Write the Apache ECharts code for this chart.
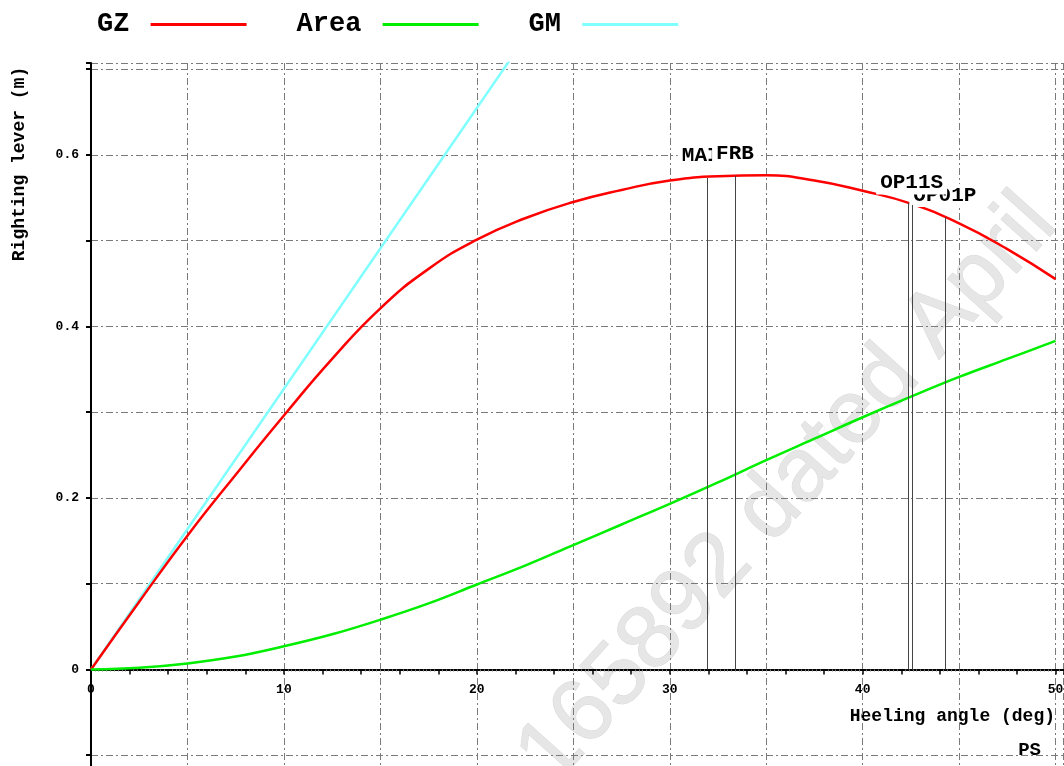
<!DOCTYPE html>
<html>
<head>
<meta charset="utf-8">
<script src="https://cdn.jsdelivr.net/npm/echarts@6.0.0/dist/echarts.min.js"></script>
<style>
html,body{margin:0;padding:0;background:#fff;}
#chart{width:1064px;height:766px;}
</style>
</head>
<body>
<div id="chart"></div>
<script>
// Heeling angle (deg) for GZ curve
const gzAngles = [0, 2.5, 5, 7.5, 10, 12.5, 15, 17.5, 20, 22.5, 25, 27.5, 30, 32.5, 35, 37.5, 40, 42.5, 45, 47.5, 50];
// Righting lever GZ (m)
const gzValues = [0, 0.079, 0.156, 0.227, 0.296, 0.362, 0.421, 0.467, 0.501, 0.526, 0.545, 0.559, 0.570, 0.575, 0.576, 0.570, 0.558, 0.543, 0.520, 0.490, 0.455];

// Area under GZ curve (m.rad)
const areaAngles = [0, 2.5, 5, 7.5, 10, 12.5, 15, 17.5, 20, 22.5, 25, 27.5, 30, 32.5, 35, 37.5, 40, 42.5, 45, 47.5, 50];
const areaValues = [0, 0.002, 0.007, 0.015, 0.027, 0.041, 0.058, 0.077, 0.099, 0.121, 0.145, 0.169, 0.193, 0.218, 0.244, 0.269, 0.294, 0.318, 0.341, 0.362, 0.383];

// GM line: from origin to GM at 1 rad (57.3 deg)
const gmAngles = [0, 57.3];
const gmValues = [0, 1.875];

// Opening / criteria markers
const markerNames  = ['MAIN', 'FRB', 'OP01P', '', 'OP11S'];
const markerAngles = [31.93, 33.38, 44.26, 42.33, 42.54];
const markerGZ     = [0.573, 0.5755, 0.527, 0.544, 0.5415];

const legendNames = ['GZ', 'Area', 'GM'];
const yTickLabels = ['0', '0.2', '0.4', '0.6'];

const MONO = '"Liberation Mono", "DejaVu Sans Mono", monospace';
const gridStyle = { color: '#7a7a7a', width: 1, type: [7, 3, 2, 3] };

const zip = (xs, ys) => xs.map((x, i) => [x, ys[i]]);

// grid geometry: y from -0.2 to 0.707 (bottom part runs off the page)
const G_TOP = 63, G_BOTTOM = -75, Y_MIN = -0.2, Y_MAX = 0.707;
const plotH = 766 - G_TOP - G_BOTTOM;
const zeroOffset = -(plotH * (0 - Y_MIN) / (Y_MAX - Y_MIN));

const chart = echarts.init(document.getElementById('chart'), null, { renderer: 'canvas' });

chart.setOption({
  animation: false,
  backgroundColor: '#fff',
  legend: {
    data: legendNames,
    left: 92,
    top: 6,
    align: 'right',
    icon: 'rect',
    itemWidth: 96,
    itemHeight: 3,
    itemGap: 50,
    formatter: n => n + ' ',
    textStyle: { fontFamily: MONO, fontWeight: 'bold', fontSize: 27, color: '#000' }
  },
  grid: { left: 91, right: 0.7, top: G_TOP, bottom: G_BOTTOM, containLabel: false, outerBoundsMode: 'none' },
  xAxis: [
    {
      type: 'value', min: 0, max: 50.4, interval: 2, position: 'bottom', offset: zeroOffset,
      axisLine: { show: true, onZero: false, lineStyle: { color: '#000', width: 2 } },
      axisTick: { show: true, length: 5, lineStyle: { color: '#000', width: 1.5 } },
      minorTick: { show: true, splitNumber: 10, length: 2, lineStyle: { color: '#777' } },
      axisLabel: {
        margin: 14, fontFamily: MONO, fontSize: 13, fontWeight: 'bold', color: '#000',
        formatter: v => (Math.abs(v % 10) < 1e-6 && v <= 50.01) ? String(Math.round(v)) : ''
      },
      splitLine: { show: false }
    },
    {
      type: 'value', min: 0, max: 50.4, interval: 5, position: 'top',
      axisLine: { show: false }, axisTick: { show: false }, axisLabel: { show: false },
      splitLine: { show: true, lineStyle: gridStyle }
    }
  ],
  yAxis: {
    type: 'value', min: Y_MIN, max: Y_MAX, interval: 0.1,
    axisLine: { show: true, onZero: false, lineStyle: { color: '#000', width: 2 } },
    axisTick: { show: true, length: 5, lineStyle: { color: '#000', width: 2 } },
    axisLabel: {
      margin: 12, fontFamily: MONO, fontSize: 13, fontWeight: 'bold', color: '#000',
      formatter: v => {
        const r = Math.round(v * 10);
        if (Math.abs(v * 10 - r) > 1e-6 || r < 0 || r % 2) return '';
        return yTickLabels[r / 2] || '';
      }
    },
    splitLine: { show: true, lineStyle: gridStyle }
  },
  graphic: [
    {
      type: 'text', x: 788, y: 490, rotation: 48 * Math.PI / 180, z: -10, silent: true,
      style: { text: '165892 dated April', font: '90px "Liberation Sans", Arial, sans-serif',
               fill: '#e6e6e6', stroke: '#d8d8d8', lineWidth: 1, align: 'center', verticalAlign: 'middle' }
    },
    {
      type: 'text', x: 19, y: 164, rotation: Math.PI / 2,
      style: { text: 'Righting lever (m)', font: 'bold 18px ' + MONO, fill: '#000', align: 'center', verticalAlign: 'middle' }
    },
    {
      type: 'text', x: 1055, y: 716,
      style: { text: 'Heeling angle (deg)', font: 'bold 18px ' + MONO, fill: '#000', align: 'right', verticalAlign: 'middle' }
    },
    {
      type: 'text', x: 1041, y: 750,
      style: { text: 'PS', font: 'bold 19px ' + MONO, fill: '#000', align: 'right', verticalAlign: 'middle' }
    }
  ],
  series: [
    {
      name: 'GZ', type: 'line', data: zip(gzAngles, gzValues), smooth: 0.5,
      showSymbol: false, color: '#ff0000', lineStyle: { color: '#ff0000', width: 2.5 }, z: 3
    },
    {
      name: 'Area', type: 'line', data: zip(areaAngles, areaValues), smooth: 0.4,
      showSymbol: false, color: '#00ee00', lineStyle: { color: '#00ee00', width: 2.5 }, z: 3
    },
    {
      name: 'GM', type: 'line', data: zip(gmAngles, gmValues),
      showSymbol: false, color: '#80ffff', lineStyle: { color: '#80ffff', width: 2.5 }, z: 2
    },
    {
      type: 'custom', z: 6, clip: false,
      data: markerAngles.map((a, i) => [a, markerGZ[i], i]),
      encode: { x: 0, y: 1 },
      renderItem: (params, api) => {
        const i = api.value(2);
        const top = api.coord([api.value(0), api.value(1)]);
        const bot = api.coord([api.value(0), 0]);
        const lx = Math.round(top[0]) + 0.5;
        const children = [{
          type: 'line',
          shape: { x1: lx, y1: top[1], x2: lx, y2: bot[1] },
          style: { stroke: '#444', lineWidth: 1 }
        }];
        const name = markerNames[i];
        if (name) {
          children.push({
            type: 'text', x: top[0], y: top[1] - 22,
            style: { text: name, font: 'bold 21px ' + MONO, fill: '#000', align: 'center',
                     verticalAlign: 'middle', backgroundColor: '#fff', padding: [1, 4] }
          });
        }
        return { type: 'group', children };
      }
    }
  ]
});
</script>
</body>
</html>
